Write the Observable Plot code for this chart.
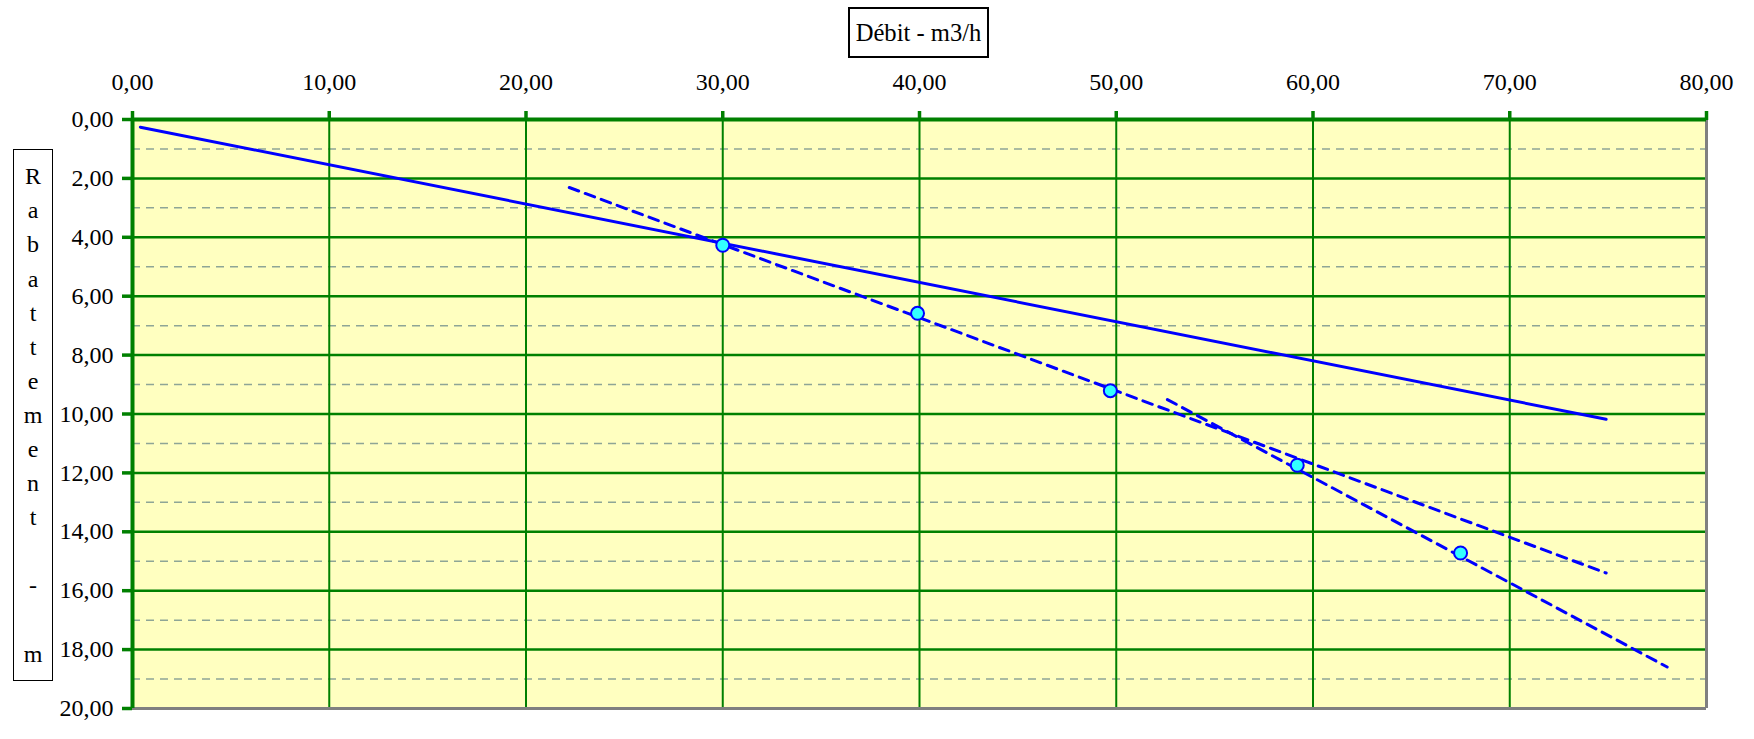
<!DOCTYPE html>
<html>
<head>
<meta charset="utf-8">
<script src="https://cdn.jsdelivr.net/npm/d3@7"></script>
<script src="https://cdn.jsdelivr.net/npm/@observablehq/plot@0.6"></script>
<style>
  html, body { margin: 0; padding: 0; background: #fff; }
  #chart { position: relative; width: 1754px; height: 739px; font-family: "Liberation Serif", "Times New Roman", serif; }
  #chart svg { position: absolute; left: 0; top: 0; }
  .axis-title { position: absolute; box-sizing: border-box; border: 2px solid #000; background: #fff; color: #000; }
  #xtitle { left: 848px; top: 7px; width: 141px; height: 51px; font-size: 24.6px; display: flex; align-items: center; justify-content: center; white-space: nowrap; }
  #ytitle { left: 13px; top: 149px; width: 40px; height: 532px; border-width: 1.5px; font-size: 24px; display: flex; flex-direction: column; align-items: center; justify-content: center; }
  #ytitle div { height: 34.1px; line-height: 34.1px; text-align: center; }
</style>
</head>
<body>
<div id="chart"></div>
<script>
// Pumping test: measured drawdown against flow rate
const debit = [30.0, 39.9, 49.7, 59.2, 67.5];          // m3/h
const rabattement = [4.27, 6.58, 9.21, 11.74, 14.72];  // m

// Fitted lines (end points)
const droiteQ = [0.4, 74.9];
const droiteS = [0.26, 10.18];
const palier1Q = [22.2, 74.9];
const palier1S = [2.31, 15.4];
const palier2Q = [52.6, 78.0];
const palier2S = [9.51, 18.59];

// Axis ticks and titles
const xTicks = [0, 10, 20, 30, 40, 50, 60, 70, 80];
const yTicks = [0, 2, 4, 6, 8, 10, 12, 14, 16, 18, 20];
const yMinor = [1, 3, 5, 7, 9, 11, 13, 15, 17, 19];
const xTitle = "Débit - m3/h";
const yTitle = "Rabattement - m";

const fmt = v => d3.format(".2f")(v).replace(".", ",");
const pts = (qs, ss) => qs.map((q, i) => ({q, s: ss[i]}));
const mesures = pts(debit, rabattement);

const green = "#008000";
const grey = "#808080";

const plot = Plot.plot({
  width: 1754,
  height: 739,
  marginLeft: 132,
  marginRight: 48,
  marginTop: 119,
  marginBottom: 31,
  style: {fontFamily: "Liberation Serif, Times New Roman, serif", fontSize: "24px", color: "#000", background: "transparent", overflow: "visible"},
  x: {domain: [0, 80]},
  y: {domain: [0, 20], reverse: true},
  marks: [
    Plot.frame({fill: "#ffffc0", stroke: "none"}),
    Plot.ruleY(yMinor, {stroke: "#8ea596", strokeWidth: 1.5, strokeDasharray: "8,6"}),
    Plot.ruleY(yTicks.slice(1, -1), {stroke: green, strokeWidth: 2.5}),
    Plot.ruleX(xTicks.slice(1, -1), {stroke: green, strokeWidth: 2}),
    Plot.ruleX([80], {stroke: grey, strokeWidth: 3}),
    Plot.ruleY([20], {stroke: grey, strokeWidth: 3}),
    Plot.ruleX([0], {stroke: green, strokeWidth: 4}),
    Plot.ruleY([0], {stroke: green, strokeWidth: 4}),
    Plot.axisX({anchor: "top", ticks: xTicks, tickFormat: fmt, tickSize: 9, tickPadding: 21, stroke: green, strokeWidth: 3.5, fill: "#000", fontSize: 24, label: null}),
    Plot.axisY({anchor: "left", ticks: yTicks, tickFormat: fmt, tickSize: 10, tickPadding: 9, stroke: green, strokeWidth: 3.5, fill: "#000", fontSize: 24, label: null}),
    Plot.line(pts(droiteQ, droiteS), {x: "q", y: "s", stroke: "#0000ff", strokeWidth: 3}),
    Plot.line(pts(palier1Q, palier1S), {x: "q", y: "s", stroke: "#0000ff", strokeWidth: 3, strokeDasharray: "10,7"}),
    Plot.line(pts(palier2Q, palier2S), {x: "q", y: "s", stroke: "#0000ff", strokeWidth: 3, strokeDasharray: "10,7"}),
    Plot.dot(mesures, {x: "q", y: "s", r: 6.5, fill: "#33ffff", stroke: "#0000ff", strokeWidth: 2})
  ]
});

const chart = document.getElementById("chart");
chart.appendChild(plot);

const xt = document.createElement("div");
xt.id = "xtitle";
xt.className = "axis-title";
xt.textContent = xTitle;
chart.appendChild(xt);

const yt = document.createElement("div");
yt.id = "ytitle";
yt.className = "axis-title";
for (const ch of yTitle) {
  const d = document.createElement("div");
  d.textContent = ch === " " ? "\u00a0" : ch;
  yt.appendChild(d);
}
chart.appendChild(yt);
</script>
</body>
</html>
